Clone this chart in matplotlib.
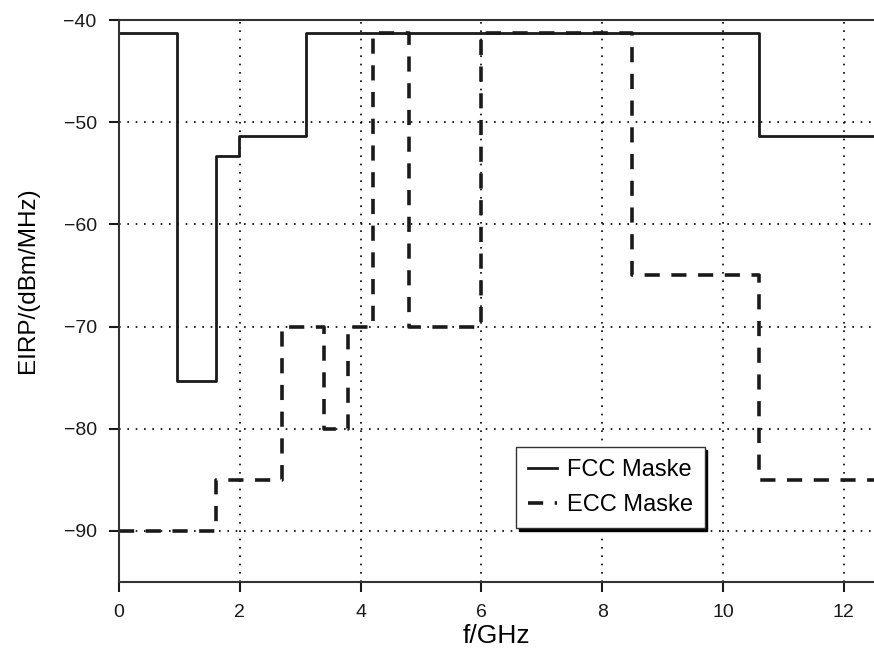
import matplotlib.pyplot as plt
import numpy as np

plt.rcParams['font.family'] = ['Liberation Sans', 'DejaVu Sans']

# FCC mask: band edges in GHz and EIRP level per band
fcc_edges = [0, 0.96, 1.61, 1.99, 3.1, 10.6, 12.5]
fcc_level = [-41.3, -75.3, -53.3, -51.3, -41.3, -51.3]

# ECC mask
ecc_edges = [0, 1.6, 2.7, 3.4, 3.8, 4.2, 4.8, 6.0, 8.5, 10.6, 12.5]
ecc_level = [-90, -85, -70, -80, -70, -41.3, -70, -41.3, -65, -85]

fig = plt.figure(figsize=(8.74, 6.48), dpi=100)
ax = fig.add_axes([0.136, 0.102, 0.864, 0.867])

# step lines (repeat last level so the last band gets drawn to the edge)
ax.step(fcc_edges, fcc_level + [fcc_level[-1]], where='post',
        color='#1a1a1a', lw=2.0, label='FCC Maske')
ax.step(ecc_edges, ecc_level + [ecc_level[-1]], where='post',
        color='#1a1a1a', lw=2.6, dashes=(4.2, 3.2), label='ECC Maske')

ax.set_xlim(0, 12.5)
ax.set_ylim(-95, -40)
ax.set_xticks([0, 2, 4, 6, 8, 10, 12])
ax.set_yticks([-90, -80, -70, -60, -50, -40])

ax.grid(True, color='black', linestyle=(0, (1, 4)), lw=1.2)
ax.tick_params(direction='out', length=7, width=1.5, labelsize=14,
               colors='#1a1a1a', pad=9)
ax.spines['right'].set_visible(False)
for s in ['left', 'bottom', 'top']:
    ax.spines[s].set_linewidth(1.5)
    ax.spines[s].set_color('#333333')

ax.set_xlabel('f/GHz', fontsize=19, labelpad=2)
ax.set_ylabel('EIRP/(dBm/MHz)', fontsize=17.5)
ax.yaxis.set_label_coords(-0.106, 0.537)

leg = ax.legend(loc='lower left', bbox_to_anchor=(0.526, 0.096), fontsize=17,
                fancybox=False, shadow={'color': 'black', 'alpha': 1},
                framealpha=1, edgecolor='#333333', handlelength=1.25,
                handletextpad=0.4, borderpad=0.5, labelspacing=0.55,
                borderaxespad=0)
leg.get_frame().set_linewidth(1.0)

fig.savefig('out.png', dpi=100)
